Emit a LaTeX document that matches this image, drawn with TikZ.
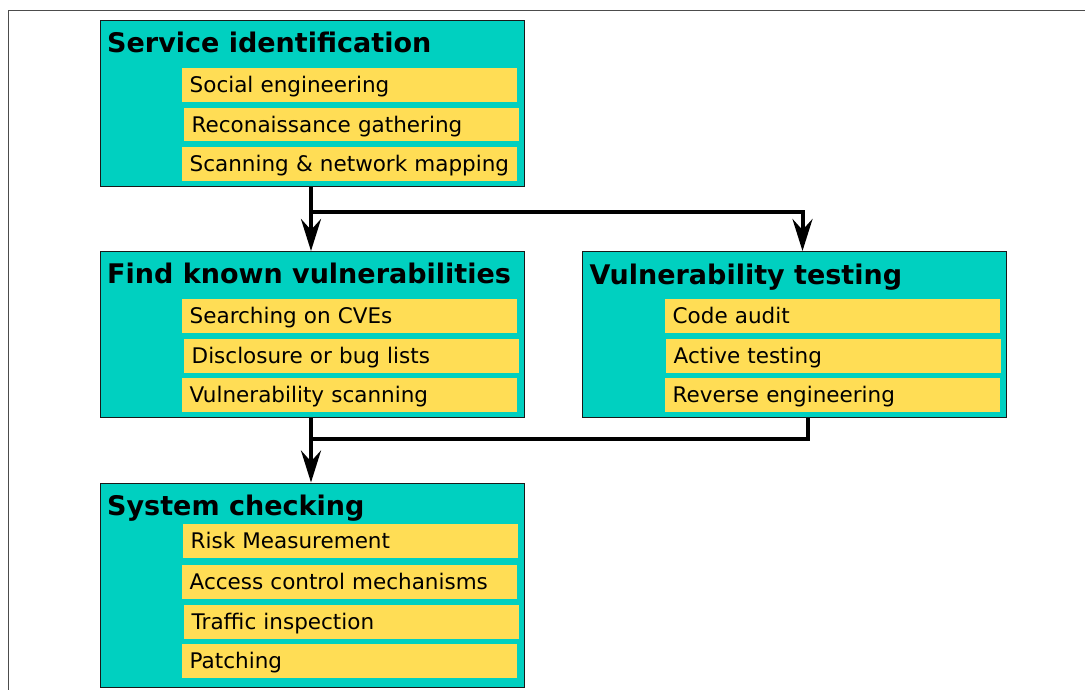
\documentclass[tikz,border=0pt]{standalone}
\usepackage{fontspec}
\setmainfont{DejaVu Sans}
\definecolor{stageteal}{RGB}{0, 208, 192}
\definecolor{taskyellow}{RGB}{255, 221, 85}
\usepackage{tikz}
\usetikzlibrary{arrows.meta, positioning}

\begin{document}
\begin{tikzpicture}[x=1pt, y=-1pt,
  stage/.style={draw=black!90, line width=1pt, fill=stageteal, anchor=north west, minimum width=424pt, inner sep=0pt},
  head/.style={anchor=base west, inner sep=0pt, font=\fontsize{27}{30}\selectfont\bfseries},
  task/.style={fill=taskyellow, anchor=north west, minimum width=335pt, minimum height=33.7pt, text width=320pt, inner xsep=7.5pt, inner ysep=0pt, text height=19pt, text depth=4pt, align=left, font=\fontsize{21.5}{24}\selectfont},
  link/.style={line width=4pt},
  flow/.style={link, -{Stealth[length=32pt, width=20pt, inset=11pt]}}
]
  \useasboundingbox (0,0) rectangle (1085,690);
  \draw[black!70, line width=1pt] (1085,11) -- (8.5,11) -- (8.5,690);

  % stages
  \node[stage, minimum height=166pt] (svc) at (100,20) {};
  \node[stage, minimum height=166pt] (known) at (100,251) {};
  \node[stage, minimum height=166pt] (test) at (582,251) {};
  \node[stage, minimum height=204pt] (check) at (100,482.5) {};

  \node[head] (svc-t) at (107,52.5) {Service identification};
  \node[task] (svc-1) at (182,68) {Social engineering};
  \node[task] (svc-2) at (184,107.5) {Reconaissance gathering};
  \node[task] (svc-3) at (182,147) {Scanning \& network mapping};

  \node[head] (known-t) at (107,283.5) {Find known vulnerabilities};
  \node[task] (known-1) at (182,299) {Searching on CVEs};
  \node[task] (known-2) at (184,339) {Disclosure or bug lists};
  \node[task] (known-3) at (182,378) {Vulnerability scanning};

  \node[head] (test-t) at (589.5,284) {Vulnerability testing};
  \node[task] (test-1) at (665,299) {Code audit};
  \node[task] (test-2) at (666,339) {Active testing};
  \node[task] (test-3) at (665,378) {Reverse engineering};

  \node[head] (check-t) at (107,515) {System checking};
  \node[task] (check-1) at (183,524) {Risk Measurement};
  \node[task] (check-2) at (182,565) {Access control mechanisms};
  \node[task] (check-3) at (184,605) {Traffic inspection};
  \node[task] (check-4) at (182,644) {Patching};

  % connectors
  \draw[flow] ([xshift=-1.5pt]svc.south) -- ([xshift=-1.5pt]known.north);
  \draw[flow] ([xshift=-1.5pt, yshift=-25pt]svc.south) -| ([xshift=8pt]test.north);
  \draw[link] ([xshift=13pt]test.south) |- ([xshift=-1.5pt, yshift=-21pt]known.south);
  \draw[flow] ([xshift=-1.5pt]known.south) -- ([xshift=-1.5pt]check.north);
\end{tikzpicture}
\end{document}
